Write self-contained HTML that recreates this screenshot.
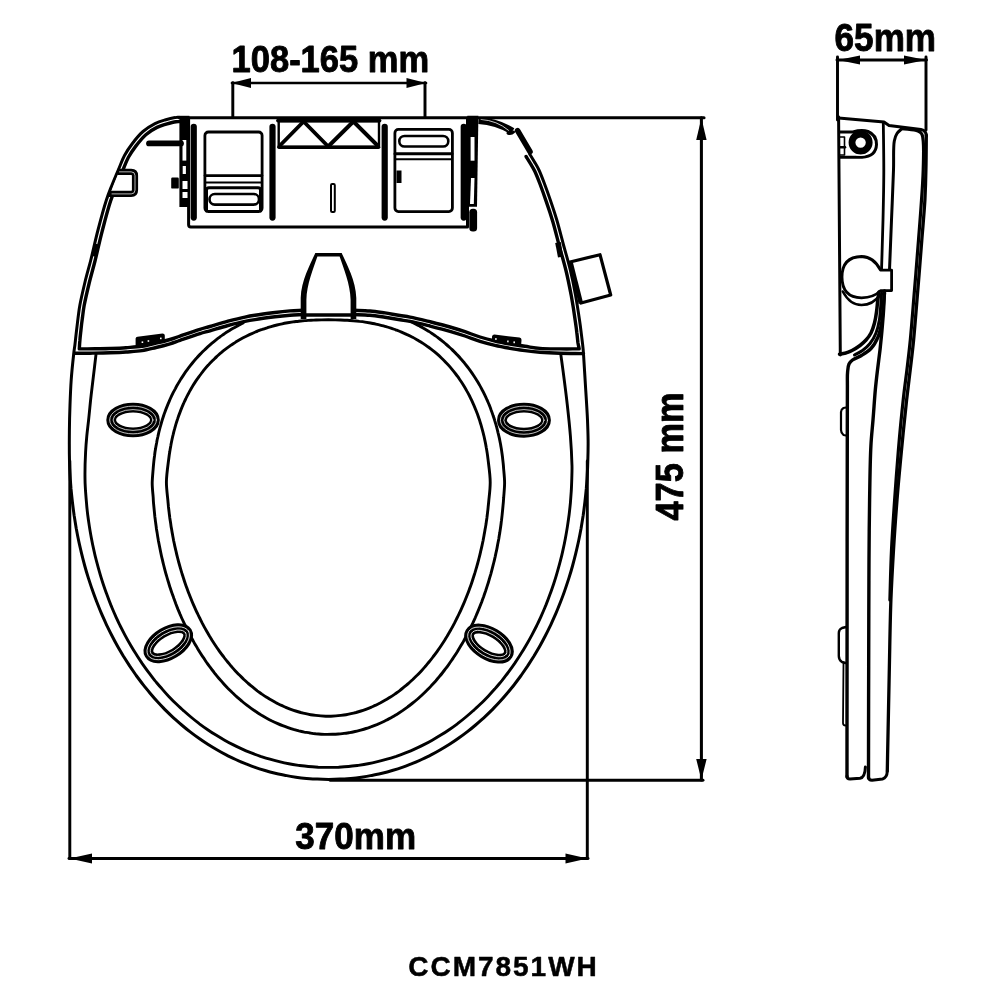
<!DOCTYPE html>
<html><head><meta charset="utf-8"><style>
html,body{margin:0;padding:0;background:#fff;width:1000px;height:1000px;overflow:hidden}
svg{position:absolute;left:0;top:0;will-change:transform}
.t{position:absolute;font-family:"Liberation Sans",sans-serif;font-weight:bold;color:#000;white-space:nowrap;line-height:1}
.rot{transform:translate(-50%,-50%) rotate(-90deg);transform-origin:center center}
</style></head><body>
<svg width="1000" height="1000" viewBox="0 0 1000 1000" stroke="#000" fill="none" stroke-linecap="round" stroke-linejoin="round">
<path d="M179.0,117.3 C177.7,117.4 176.6,117.3 175.0,117.6 C172.4,118.0 168.3,119.0 165.0,120.0 C161.6,121.0 158.4,121.9 155.0,123.6 C151.1,125.6 146.7,128.3 143.0,131.5 C139.1,134.9 135.5,139.4 132.4,143.5 C129.4,147.4 126.8,151.3 124.5,155.5 C122.2,159.8 120.7,164.3 118.7,169.0 C116.5,174.1 114.1,179.7 112.0,185.0 C110.0,190.1 108.3,194.1 106.4,200.0 C103.7,208.2 100.6,220.0 98.0,230.0 C95.4,240.0 93.1,250.8 90.8,260.0 C88.8,267.9 86.8,274.6 85.0,282.0 C83.2,289.6 81.1,298.5 79.9,305.0 C79.0,309.8 78.7,313.3 78.1,317.5 C77.6,321.7 77.1,325.6 76.6,330.0 C76.0,334.8 75.4,340.8 74.9,345.0 C74.5,348.1 74.2,349.5 73.8,353.0 C73.1,359.3 71.8,371.2 71.2,380.0 C70.6,388.5 70.3,396.7 70.0,405.0 C69.7,413.3 69.5,421.2 69.4,430.0 C69.3,439.8 69.3,452.9 69.5,461.2 C69.6,466.8 69.8,470.5 70.1,475.1 C70.3,479.6 70.7,484.2 71.0,488.7 C71.4,493.1 71.9,497.6 72.4,502.0 C72.9,506.4 73.5,510.8 74.1,515.2 C74.8,519.6 75.5,523.9 76.2,528.2 C77.0,532.5 77.8,536.7 78.7,541.0 C79.6,545.2 80.6,549.4 81.6,553.6 C82.6,557.7 83.7,561.9 84.8,566.0 C85.9,570.1 87.1,574.1 88.4,578.1 C89.7,582.1 91.0,586.1 92.4,590.1 C93.7,594.0 95.2,597.9 96.7,601.8 C98.2,605.6 99.7,609.4 101.3,613.2 C102.9,616.9 104.6,620.6 106.3,624.3 C108.1,628.0 109.8,631.6 111.7,635.2 C113.5,638.7 115.4,642.3 117.3,645.7 C119.3,649.2 121.3,652.6 123.3,656.0 C125.4,659.3 127.5,662.6 129.6,665.9 C131.8,669.1 134.0,672.3 136.2,675.5 C138.5,678.6 140.8,681.7 143.1,684.7 C145.5,687.7 147.9,690.6 150.3,693.5 C152.7,696.4 155.2,699.2 157.8,702.0 C160.3,704.8 162.9,707.4 165.5,710.1 C168.1,712.7 170.8,715.3 173.5,717.8 C176.2,720.2 178.9,722.7 181.7,725.0 C184.5,727.4 187.3,729.7 190.2,731.9 C193.0,734.1 195.9,736.2 198.9,738.3 C201.8,740.4 204.8,742.4 207.8,744.3 C210.8,746.2 213.8,748.0 216.9,749.8 C219.9,751.6 223.0,753.3 226.2,754.9 C229.3,756.5 232.5,758.0 235.7,759.5 C238.8,761.0 242.1,762.3 245.3,763.6 C248.6,764.9 251.8,766.2 255.1,767.3 C258.4,768.5 261.7,769.5 265.1,770.5 C268.4,771.5 271.8,772.4 275.2,773.2 C278.6,774.0 282.0,774.8 285.5,775.4 C288.9,776.1 292.4,776.7 295.9,777.2 C299.4,777.7 302.9,778.1 306.5,778.4 C310.1,778.7 313.7,779.0 317.3,779.1 C321.0,779.3 324.9,779.4 328.6,779.4 C332.4,779.4 336.3,779.3 340.0,779.1 C343.6,779.0 347.2,778.7 350.8,778.4 C354.4,778.1 357.9,777.7 361.4,777.2 C364.9,776.7 368.4,776.1 371.8,775.4 C375.3,774.8 378.7,774.0 382.1,773.2 C385.5,772.4 388.9,771.5 392.2,770.5 C395.6,769.5 398.9,768.5 402.2,767.3 C405.5,766.2 408.7,764.9 412.0,763.6 C415.2,762.3 418.5,761.0 421.6,759.5 C424.8,758.0 428.0,756.5 431.1,754.9 C434.3,753.3 437.4,751.6 440.4,749.8 C443.5,748.0 446.5,746.2 449.5,744.3 C452.5,742.4 455.5,740.4 458.4,738.3 C461.4,736.2 464.3,734.1 467.1,731.9 C470.0,729.7 472.8,727.4 475.6,725.0 C478.4,722.7 481.1,720.2 483.8,717.8 C486.5,715.3 489.2,712.7 491.8,710.1 C494.4,707.4 497.0,704.8 499.5,702.0 C502.1,699.2 504.6,696.4 507.0,693.5 C509.4,690.6 511.8,687.7 514.2,684.7 C516.5,681.7 518.8,678.6 521.1,675.5 C523.3,672.3 525.5,669.1 527.7,665.9 C529.8,662.6 531.9,659.3 534.0,656.0 C536.0,652.6 538.0,649.2 540.0,645.7 C541.9,642.3 543.8,638.7 545.6,635.2 C547.5,631.6 549.2,628.0 551.0,624.3 C552.7,620.6 554.4,616.9 556.0,613.2 C557.6,609.4 559.1,605.6 560.6,601.8 C562.1,597.9 563.6,594.0 564.9,590.1 C566.3,586.1 567.6,582.1 568.9,578.1 C570.2,574.1 571.4,570.1 572.5,566.0 C573.6,561.9 574.7,557.7 575.7,553.6 C576.7,549.4 577.7,545.2 578.6,541.0 C579.5,536.7 580.3,532.5 581.1,528.2 C581.8,523.9 582.5,519.6 583.2,515.2 C583.8,510.8 584.4,506.4 584.9,502.0 C585.4,497.6 585.9,493.1 586.3,488.7 C586.6,484.2 587.0,479.6 587.2,475.1 C587.5,470.5 587.7,466.3 587.8,461.2 C588.0,454.9 588.2,447.0 588.1,440.0 C588.0,433.2 587.8,427.4 587.5,420.0 C587.1,410.6 586.3,398.8 585.6,388.0 C584.9,376.8 584.0,361.1 583.5,354.0 C583.3,350.8 583.2,349.8 582.9,347.0 C582.5,342.9 581.7,336.7 581.1,332.0 C580.6,327.8 580.2,324.7 579.5,320.0 C578.5,313.2 577.0,303.3 575.5,295.0 C574.0,286.6 572.3,278.3 570.3,270.0 C568.3,261.6 565.8,253.3 563.5,245.0 C561.3,236.7 559.1,227.8 556.8,220.0 C554.7,212.9 552.5,206.4 550.3,200.0 C548.3,194.1 546.2,188.3 544.2,183.0 C542.4,178.2 540.6,173.4 538.7,169.5 C537.2,166.4 535.7,164.1 534.2,161.5 C532.7,159.0 531.3,156.7 529.8,154.3" stroke-width="3.0" fill="none" />
<path d="M179.5,121.6 C178.3,121.7 177.4,121.6 176.0,121.8 C173.6,122.1 169.4,123.2 166.2,124.1 C163.1,125.1 160.1,125.9 157.0,127.4 C153.3,129.2 149.3,131.7 145.8,134.7 C142.2,137.9 138.8,142.2 135.8,146.1 C133.0,149.8 130.5,153.5 128.3,157.5 C126.1,161.7 124.6,166.1 122.7,170.7 C120.5,175.7 118.1,181.4 116.0,186.6 C114.0,191.6 112.4,195.5 110.5,201.3 C107.8,209.4 104.8,221.1 102.2,231.1 C99.6,241.0 97.3,251.8 95.0,261.0 C93.0,268.9 91.0,275.6 89.2,283.0 C87.4,290.5 85.3,299.4 84.1,305.8 C83.3,310.5 82.9,314.0 82.4,318.1 C81.8,322.2 81.3,326.6 80.9,330.5 C80.5,334.0 80.1,337.2 79.9,340.4 C79.6,343.4 79.5,346.1 79.3,348.9 C84.5,348.9 89.8,348.8 95.0,348.8 C100.1,348.7 104.9,348.7 110.0,348.5 C115.2,348.3 120.7,348.1 126.0,347.7 C131.3,347.3 136.9,347.1 142.0,346.3 C146.8,345.6 151.3,344.3 156.0,343.2 C160.7,342.1 165.7,340.8 170.0,339.5 C173.6,338.4 176.1,337.4 180.0,336.1 C185.5,334.2 194.5,331.0 200.0,329.3 C203.9,328.1 206.2,327.6 210.0,326.5 C215.1,325.0 222.1,322.8 228.0,321.2 C233.7,319.7 240.1,318.1 245.0,317.1 C248.8,316.3 251.1,315.9 255.0,315.3 C260.5,314.4 268.8,313.3 275.0,312.5 C280.4,311.8 285.2,311.3 290.0,310.9 C294.5,310.6 298.7,310.5 303.0,310.3" stroke-width="3.4" fill="none" />
<path d="M353.5,310.3 C359.0,310.5 364.6,310.5 370.0,311.0 C375.1,311.4 380.0,312.2 385.0,312.9 C390.0,313.7 395.5,314.8 400.0,315.5 C403.7,316.1 406.1,316.3 410.0,317.1 C415.5,318.2 423.3,320.1 430.0,321.7 C436.7,323.4 443.8,325.2 450.0,327.0 C455.4,328.6 460.0,330.0 465.0,331.7 C470.0,333.4 475.0,335.4 480.0,337.0 C485.0,338.5 490.0,339.8 495.0,341.0 C500.0,342.2 505.0,343.1 510.0,344.0 C515.0,344.9 520.0,345.6 525.0,346.3 C530.0,347.0 534.6,348.0 540.0,348.4 C546.2,348.9 553.4,348.8 560.0,348.9 C566.5,349.0 572.8,348.9 579.2,348.9 C578.8,346.8 578.3,344.9 577.9,342.5 C577.5,339.5 577.3,336.0 576.8,332.5 C576.4,328.7 575.9,325.3 575.2,320.6 C574.3,313.9 572.8,304.0 571.3,295.8 C569.7,287.5 568.1,279.2 566.1,271.0 C564.1,262.7 561.6,254.4 559.3,246.1 C557.1,237.8 555.0,229.0 552.7,221.2 C550.6,214.2 548.4,207.7 546.2,201.4 C544.2,195.5 542.2,189.8 540.2,184.5 C538.4,179.8 536.6,175.1 534.8,171.3 C533.4,168.4 532.0,166.2 530.5,163.7 C529.1,161.2 527.6,158.9 526.1,156.5" stroke-width="3.4" fill="none" />
<path d="M74.5,353.3 C79.7,353.3 84.5,353.3 90.0,353.2 C96.2,353.1 103.7,353.0 110.0,352.8 C115.6,352.6 120.7,352.4 126.0,352.0 C131.3,351.6 136.9,351.4 142.0,350.6 C146.8,349.9 151.3,348.6 156.0,347.5 C160.7,346.4 165.7,345.1 170.0,343.8 C173.6,342.7 176.1,341.7 180.0,340.4 C185.5,338.5 194.5,335.3 200.0,333.6 C203.9,332.4 206.2,331.9 210.0,330.8 C215.1,329.3 222.1,327.1 228.0,325.5 C233.7,324.0 240.1,322.4 245.0,321.4 C248.8,320.6 251.1,320.2 255.0,319.6 C260.5,318.7 268.8,317.6 275.0,316.8 C280.4,316.1 285.2,315.6 290.0,315.2 C294.5,314.9 298.7,314.8 303.0,314.6" stroke-width="3.4" fill="none" />
<path d="M353.5,314.6 C359.0,314.8 364.6,314.8 370.0,315.3 C375.1,315.7 380.0,316.5 385.0,317.2 C390.0,318.0 395.5,319.1 400.0,319.8 C403.7,320.4 406.1,320.6 410.0,321.4 C415.5,322.5 423.3,324.4 430.0,326.0 C436.7,327.7 443.8,329.5 450.0,331.3 C455.4,332.9 460.0,334.3 465.0,336.0 C470.0,337.7 475.0,339.7 480.0,341.3 C485.0,342.8 490.0,344.1 495.0,345.3 C500.0,346.5 505.0,347.4 510.0,348.3 C515.0,349.2 520.0,349.9 525.0,350.6 C530.0,351.3 534.6,351.9 540.0,352.3 C546.2,352.8 553.1,353.1 560.0,353.3 C567.5,353.5 575.7,353.5 583.5,353.6" stroke-width="3.4" fill="none" />
<path d="M478.5,120.4 Q497,121.5 512.5,131.2" stroke-width="7" fill="none" stroke-linecap="butt"/>
<path d="M481,119.4 Q497,120.6 508.5,130.3" stroke="#fff" stroke-width="0.8" fill="none"/>
<path d="M508,133.2 Q511.5,134 513.5,132" stroke-width="3" fill="none"/>
<path d="M517.6,130.6 L530,151.6" stroke-width="5.6" fill="none" stroke-linecap="round"/>
<path d="M96.0,354.4 C94.7,365.6 93.0,379.6 92.0,388.0 C91.4,393.0 91.1,395.5 90.6,400.0 C90.0,405.8 89.3,413.7 88.6,420.0 C88.0,425.6 87.3,430.7 86.8,436.0 C86.3,441.3 85.9,446.0 85.6,452.0 C85.2,459.7 84.9,471.3 85.0,478.4 C85.0,483.3 85.3,486.6 85.5,490.7 C85.8,494.8 86.1,498.8 86.5,502.8 C86.8,506.8 87.2,510.8 87.7,514.8 C88.2,518.7 88.8,522.7 89.4,526.6 C90.0,530.5 90.7,534.4 91.4,538.3 C92.1,542.2 92.9,546.0 93.8,549.9 C94.6,553.7 95.5,557.5 96.5,561.2 C97.5,565.0 98.5,568.7 99.6,572.4 C100.6,576.1 101.8,579.8 103.0,583.5 C104.2,587.1 105.4,590.7 106.8,594.3 C108.1,597.9 109.4,601.4 110.8,604.9 C112.3,608.4 113.7,611.9 115.3,615.3 C116.8,618.7 118.4,622.1 120.0,625.5 C121.7,628.8 123.4,632.1 125.1,635.4 C126.8,638.6 128.6,641.8 130.5,645.0 C132.3,648.1 134.2,651.3 136.2,654.3 C138.1,657.4 140.1,660.4 142.1,663.4 C144.2,666.3 146.3,669.3 148.4,672.1 C150.5,675.0 152.7,677.8 154.9,680.6 C157.2,683.3 159.4,686.0 161.8,688.6 C164.1,691.3 166.4,693.9 168.8,696.4 C171.2,698.9 173.6,701.4 176.1,703.8 C178.6,706.2 181.1,708.6 183.7,710.8 C186.2,713.1 188.8,715.3 191.5,717.5 C194.1,719.7 196.7,721.7 199.4,723.8 C202.1,725.8 204.9,727.8 207.7,729.7 C210.4,731.6 213.2,733.4 216.0,735.1 C218.9,736.9 221.7,738.6 224.6,740.2 C227.5,741.9 230.4,743.4 233.4,744.9 C236.3,746.4 239.3,747.8 242.3,749.1 C245.3,750.5 248.3,751.7 251.3,752.9 C254.4,754.1 257.4,755.2 260.5,756.3 C263.6,757.3 266.7,758.3 269.9,759.2 C273.0,760.1 276.1,761.0 279.3,761.7 C282.5,762.5 285.6,763.2 288.9,763.8 C292.1,764.4 295.3,764.9 298.5,765.4 C301.8,765.8 305.0,766.2 308.3,766.5 C311.6,766.8 314.9,767.0 318.2,767.2 C321.6,767.3 325.0,767.4 328.4,767.4 C331.8,767.4 335.2,767.3 338.6,767.2 C341.9,767.0 345.2,766.8 348.5,766.5 C351.8,766.2 355.0,765.8 358.3,765.4 C361.5,764.9 364.7,764.4 367.9,763.8 C371.2,763.2 374.3,762.5 377.5,761.7 C380.7,761.0 383.8,760.1 386.9,759.2 C390.1,758.3 393.2,757.3 396.3,756.3 C399.4,755.2 402.4,754.1 405.5,752.9 C408.5,751.7 411.5,750.5 414.5,749.1 C417.5,747.8 420.5,746.4 423.4,744.9 C426.4,743.4 429.3,741.9 432.2,740.2 C435.1,738.6 437.9,736.9 440.8,735.1 C443.6,733.4 446.4,731.6 449.1,729.7 C451.9,727.8 454.7,725.8 457.4,723.8 C460.1,721.7 462.7,719.7 465.3,717.5 C468.0,715.3 470.6,713.1 473.1,710.8 C475.7,708.6 478.2,706.2 480.7,703.8 C483.2,701.4 485.6,698.9 488.0,696.4 C490.4,693.9 492.7,691.3 495.1,688.6 C497.4,686.0 499.6,683.3 501.9,680.6 C504.1,677.8 506.3,675.0 508.4,672.1 C510.5,669.3 512.6,666.3 514.7,663.4 C516.7,660.4 518.7,657.4 520.6,654.3 C522.6,651.3 524.5,648.1 526.3,645.0 C528.2,641.8 530.0,638.6 531.7,635.4 C533.4,632.1 535.1,628.8 536.8,625.5 C538.4,622.1 540.0,618.7 541.5,615.3 C543.1,611.9 544.5,608.4 546.0,604.9 C547.4,601.4 548.7,597.9 550.0,594.3 C551.4,590.7 552.6,587.1 553.8,583.5 C555.0,579.8 556.2,576.1 557.2,572.4 C558.3,568.7 559.3,565.0 560.3,561.2 C561.3,557.5 562.2,553.7 563.0,549.9 C563.9,546.0 564.7,542.2 565.4,538.3 C566.1,534.4 566.8,530.5 567.4,526.6 C568.0,522.7 568.6,518.7 569.1,514.8 C569.6,510.8 570.0,506.8 570.4,502.8 C570.7,498.8 571.0,494.8 571.3,490.7 C571.5,486.6 571.7,482.6 571.8,478.4 C571.9,474.3 572.1,470.9 572.0,465.8 C571.8,458.0 571.2,446.1 570.4,436.0 C569.6,425.5 568.4,414.7 567.2,404.0 C566.0,393.3 564.4,381.1 563.2,372.0 C562.3,365.3 561.6,360.3 560.8,354.4" stroke-width="2.9" fill="none" />
<path d="M243.0,323.0 C241.5,323.8 239.8,324.6 238.3,325.4 C236.7,326.3 235.1,327.1 233.6,328.0 C232.1,328.9 230.5,329.8 229.1,330.8 C227.6,331.7 226.1,332.6 224.6,333.6 C223.2,334.6 221.7,335.6 220.3,336.6 C218.9,337.7 217.5,338.7 216.1,339.8 C214.7,340.9 213.3,342.0 212.0,343.1 C210.7,344.2 209.3,345.4 208.0,346.6 C206.7,347.8 205.5,348.9 204.2,350.2 C202.9,351.4 201.7,352.6 200.5,353.9 C199.2,355.2 198.0,356.5 196.9,357.8 C195.7,359.1 194.5,360.4 193.4,361.8 C192.3,363.1 191.2,364.5 190.1,365.9 C189.0,367.3 187.9,368.7 186.9,370.2 C185.8,371.6 184.8,373.1 183.8,374.6 C182.8,376.1 181.8,377.6 180.8,379.1 C179.9,380.7 178.9,382.2 178.0,383.8 C177.1,385.3 176.2,386.9 175.4,388.6 C174.5,390.2 173.6,391.8 172.8,393.4 C172.0,395.1 171.2,396.8 170.4,398.5 C169.7,400.2 168.9,401.9 168.2,403.6 C167.5,405.3 166.8,407.1 166.1,408.9 C165.4,410.6 164.8,412.4 164.1,414.2 C163.5,416.1 162.9,417.9 162.3,419.7 C161.7,421.6 161.2,423.5 160.7,425.4 C160.1,427.2 159.6,429.2 159.1,431.1 C158.7,433.0 158.2,435.0 157.8,437.0 C157.3,438.9 156.9,440.9 156.6,443.0 C156.2,445.0 155.8,447.0 155.5,449.1 C155.1,451.2 154.8,453.3 154.6,455.4 C154.3,457.5 154.0,459.7 153.8,461.8 C153.6,464.0 153.4,465.9 153.2,468.5 C152.9,472.4 152.3,478.2 152.2,483.0 C152.2,487.8 152.9,493.7 153.2,497.5 C153.3,500.1 153.4,501.7 153.6,503.8 C153.8,505.9 154.0,508.0 154.2,510.0 C154.4,512.1 154.6,514.2 154.8,516.2 C155.1,518.3 155.3,520.4 155.6,522.4 C155.9,524.5 156.2,526.5 156.4,528.5 C156.7,530.6 157.1,532.6 157.4,534.6 C157.7,536.7 158.1,538.7 158.4,540.7 C158.8,542.7 159.2,544.7 159.6,546.7 C160.0,548.7 160.4,550.7 160.8,552.7 C161.2,554.7 161.6,556.6 162.1,558.6 C162.6,560.5 163.0,562.5 163.5,564.5 C164.0,566.4 164.5,568.3 165.0,570.3 C165.5,572.2 166.0,574.1 166.6,576.0 C167.1,577.9 167.7,579.8 168.3,581.7 C168.8,583.6 169.4,585.4 170.0,587.3 C170.6,589.2 171.2,591.0 171.9,592.9 C172.5,594.7 173.2,596.5 173.8,598.3 C174.5,600.2 175.2,601.9 175.8,603.7 C176.5,605.5 177.2,607.3 177.9,609.1 C178.7,610.8 179.4,612.6 180.1,614.3 C180.9,616.1 181.6,617.8 182.4,619.5 C183.2,621.2 184.0,622.9 184.8,624.6 C185.6,626.3 186.4,627.9 187.2,629.6 C188.0,631.2 188.8,632.9 189.7,634.5 C190.5,636.1 191.4,637.7 192.3,639.3 C193.2,640.9 194.0,642.5 194.9,644.0 C195.8,645.6 196.8,647.1 197.7,648.7 C198.6,650.2 199.5,651.7 200.5,653.2 C201.4,654.7 202.4,656.2 203.4,657.6 C204.3,659.1 205.3,660.5 206.3,662.0 C207.3,663.4 208.3,664.8 209.3,666.2 C210.4,667.6 211.4,668.9 212.4,670.3 C213.5,671.6 214.5,673.0 215.6,674.3 C216.6,675.6 217.6,676.8 218.8,678.2 C220.1,679.7 221.7,681.5 223.2,683.2 C224.6,684.8 226.1,686.4 227.6,688.0 C229.1,689.5 230.7,691.0 232.2,692.5 C233.8,694.0 235.3,695.5 236.9,696.9 C238.5,698.3 240.0,699.7 241.7,701.0 C243.3,702.4 244.9,703.7 246.5,704.9 C248.1,706.2 249.8,707.4 251.5,708.6 C253.1,709.8 254.8,710.9 256.5,712.0 C258.2,713.2 259.9,714.2 261.6,715.3 C263.3,716.3 265.0,717.3 266.7,718.2 C268.5,719.2 270.2,720.1 272.0,721.0 C273.7,721.8 275.5,722.6 277.2,723.4 C279.0,724.2 280.8,725.0 282.6,725.7 C284.4,726.4 286.2,727.0 288.0,727.6 C289.8,728.3 291.6,728.8 293.4,729.4 C295.2,729.9 297.1,730.4 298.9,730.9 C300.7,731.3 302.6,731.7 304.4,732.1 C306.3,732.4 308.1,732.8 310.0,733.0 C311.9,733.3 313.7,733.6 315.6,733.8 C317.5,733.9 319.4,734.1 321.2,734.2 C323.1,734.3 325.0,734.4 326.9,734.4 C328.9,734.4 330.8,734.4 332.7,734.3 C334.6,734.3 336.5,734.2 338.4,734.0 C340.3,733.8 342.2,733.7 344.0,733.4 C345.9,733.2 347.7,732.9 349.6,732.6 C351.5,732.3 353.3,731.9 355.1,731.5 C357.0,731.1 358.8,730.6 360.7,730.1 C362.5,729.6 364.3,729.1 366.1,728.5 C367.9,728.0 369.7,727.3 371.5,726.7 C373.3,726.0 375.1,725.3 376.9,724.6 C378.7,723.8 380.5,723.0 382.2,722.2 C384.0,721.4 385.7,720.5 387.5,719.6 C389.2,718.7 391.0,717.8 392.7,716.8 C394.4,715.8 396.1,714.7 397.8,713.7 C399.5,712.6 401.2,711.5 402.9,710.4 C404.5,709.2 406.2,708.0 407.8,706.8 C409.5,705.6 411.1,704.3 412.7,703.0 C414.4,701.7 416.0,700.4 417.6,699.0 C419.1,697.6 420.7,696.2 422.3,694.7 C423.8,693.3 425.4,691.8 426.9,690.3 C428.4,688.7 430.0,687.2 431.4,685.6 C432.9,684.0 434.5,682.2 435.9,680.7 C437.0,679.4 438.0,678.2 439.1,676.9 C440.2,675.6 441.3,674.3 442.3,673.0 C443.4,671.6 444.4,670.3 445.4,668.9 C446.5,667.6 447.5,666.2 448.5,664.8 C449.5,663.4 450.5,662.0 451.5,660.5 C452.5,659.1 453.4,657.6 454.4,656.2 C455.4,654.7 456.3,653.2 457.3,651.7 C458.2,650.2 459.1,648.7 460.1,647.1 C461.0,645.6 461.9,644.0 462.8,642.5 C463.7,640.9 464.5,639.3 465.4,637.7 C466.3,636.1 467.1,634.5 468.0,632.9 C468.8,631.2 469.6,629.6 470.4,627.9 C471.3,626.3 472.1,624.6 472.9,622.9 C473.6,621.2 474.4,619.5 475.2,617.8 C475.9,616.1 476.7,614.3 477.4,612.6 C478.2,610.8 478.9,609.1 479.6,607.3 C480.3,605.5 481.0,603.7 481.7,602.0 C482.3,600.1 483.0,598.3 483.7,596.5 C484.3,594.7 484.9,592.9 485.6,591.0 C486.2,589.2 486.8,587.3 487.4,585.4 C488.0,583.6 488.6,581.7 489.1,579.8 C489.7,577.9 490.2,576.0 490.8,574.1 C491.3,572.2 491.8,570.3 492.3,568.3 C492.8,566.4 493.3,564.4 493.8,562.5 C494.3,560.5 494.7,558.6 495.2,556.6 C495.6,554.7 496.0,552.7 496.5,550.7 C496.9,548.7 497.3,546.7 497.6,544.7 C498.0,542.7 498.4,540.7 498.8,538.7 C499.1,536.7 499.4,534.6 499.8,532.6 C500.1,530.6 500.4,528.6 500.7,526.5 C501.0,524.5 501.2,522.4 501.5,520.4 C501.7,518.3 502.0,516.2 502.2,514.2 C502.4,512.1 502.6,510.0 502.8,508.0 C503.0,505.9 503.2,503.6 503.4,501.7 C503.5,500.2 503.5,499.3 503.7,497.5 C503.9,494.1 504.6,487.8 504.6,483.0 C504.6,478.2 503.9,472.1 503.6,468.5 C503.5,466.4 503.4,465.3 503.2,463.5 C503.0,461.5 502.7,459.1 502.5,457.0 C502.2,454.9 501.9,452.7 501.6,450.6 C501.3,448.6 500.9,446.5 500.6,444.5 C500.2,442.5 499.8,440.4 499.4,438.4 C499.0,436.5 498.5,434.5 498.0,432.6 C497.6,430.6 497.1,428.7 496.6,426.8 C496.0,424.9 495.5,423.0 494.9,421.1 C494.4,419.3 493.8,417.4 493.1,415.6 C492.5,413.8 491.9,412.0 491.2,410.2 C490.6,408.4 489.9,406.7 489.2,404.9 C488.4,403.2 487.7,401.4 486.9,399.7 C486.2,398.0 485.4,396.4 484.6,394.7 C483.8,393.0 483.0,391.4 482.1,389.8 C481.2,388.1 480.4,386.5 479.5,384.9 C478.6,383.4 477.6,381.8 476.7,380.3 C475.8,378.7 474.8,377.2 473.8,375.7 C472.8,374.2 471.8,372.7 470.8,371.3 C469.7,369.8 468.7,368.4 467.6,367.0 C466.5,365.6 465.4,364.2 464.3,362.8 C463.1,361.4 462.0,360.1 460.8,358.8 C459.7,357.4 458.5,356.1 457.3,354.9 C456.1,353.6 454.8,352.3 453.6,351.1 C452.3,349.9 451.1,348.6 449.8,347.5 C448.5,346.3 447.2,345.1 445.8,344.0 C444.5,342.8 443.1,341.7 441.8,340.6 C440.4,339.5 439.0,338.5 437.6,337.4 C436.2,336.4 434.7,335.4 433.3,334.4 C431.8,333.4 430.4,332.4 428.9,331.4 C427.4,330.5 425.9,329.6 424.4,328.7 C422.8,327.8 421.3,326.9 419.7,326.1 C418.2,325.2 416.6,324.4 415.0,323.6 C413.4,322.8 411.7,322.1 410.1,321.3" stroke-width="2.9" fill="none" />
<path d="M488.0,459.2 C487.7,456.5 487.5,455.1 487.2,453.1 C486.9,451.1 486.6,449.1 486.2,447.2 C485.9,445.2 485.5,443.3 485.1,441.4 C484.7,439.5 484.3,437.6 483.9,435.8 C483.4,433.9 483.0,432.1 482.5,430.3 C482.0,428.5 481.5,426.7 481.0,424.9 C480.5,423.2 479.9,421.5 479.4,419.7 C478.8,418.0 478.2,416.3 477.6,414.6 C477.0,413.0 476.4,411.3 475.7,409.7 C475.1,408.0 474.4,406.4 473.7,404.8 C473.0,403.3 472.3,401.7 471.6,400.1 C470.8,398.6 470.1,397.0 469.3,395.5 C468.5,394.0 467.7,392.5 466.9,391.1 C466.1,389.6 465.3,388.2 464.4,386.7 C463.4,385.1 462.2,383.2 461.1,381.5 C459.9,379.8 458.8,378.1 457.6,376.4 C456.4,374.8 455.1,373.2 453.9,371.6 C452.6,370.0 451.3,368.4 450.0,366.9 C448.7,365.4 447.3,363.9 445.9,362.5 C444.6,361.0 443.2,359.6 441.7,358.2 C440.3,356.9 438.8,355.5 437.3,354.2 C435.8,352.9 434.3,351.6 432.7,350.4 C431.1,349.2 429.6,348.0 427.9,346.8 C426.3,345.6 424.7,344.5 423.0,343.4 C421.3,342.3 419.6,341.3 417.9,340.2 C416.1,339.2 414.4,338.2 412.6,337.3 C410.8,336.4 409.0,335.4 407.1,334.6 C405.3,333.7 403.4,332.9 401.5,332.1 C399.6,331.3 397.5,330.5 395.7,329.8 C394.0,329.2 392.5,328.7 390.9,328.1 C389.3,327.6 387.7,327.1 386.0,326.6 C384.3,326.2 382.7,325.7 381.0,325.3 C379.3,324.9 377.5,324.5 375.8,324.1 C374.1,323.7 372.3,323.4 370.5,323.0 C368.7,322.7 366.9,322.4 365.0,322.1 C363.1,321.8 361.3,321.6 359.4,321.4 C357.4,321.1 355.4,320.9 353.4,320.8 C351.4,320.6 349.4,320.4 347.3,320.3 C345.1,320.2 342.7,320.1 340.6,320.0 C338.7,319.9 337.1,319.9 335.2,319.9 C333.1,319.8 330.6,319.8 328.4,319.8 C326.1,319.8 323.6,319.8 321.5,319.9 C319.6,319.9 317.8,319.9 316.1,320.0 C314.3,320.1 312.8,320.1 311.0,320.2 C309.1,320.3 306.8,320.5 304.8,320.6 C302.7,320.8 300.8,321.0 298.8,321.2 C296.9,321.4 295.0,321.7 293.1,321.9 C291.2,322.2 289.4,322.5 287.6,322.8 C285.8,323.1 284.0,323.4 282.2,323.8 C280.5,324.2 278.7,324.6 277.0,325.0 C275.3,325.4 273.6,325.8 271.9,326.3 C270.3,326.8 268.6,327.2 267.0,327.8 C265.4,328.3 263.8,328.8 262.2,329.4 C260.6,329.9 259.1,330.5 257.5,331.1 C255.7,331.9 253.7,332.7 251.8,333.6 C249.9,334.4 248.1,335.3 246.3,336.2 C244.5,337.1 242.7,338.0 240.9,339.0 C239.2,340.0 237.4,341.1 235.7,342.1 C234.0,343.2 232.4,344.3 230.7,345.4 C229.1,346.6 227.5,347.7 225.9,348.9 C224.3,350.1 222.7,351.4 221.2,352.7 C219.7,353.9 218.2,355.3 216.7,356.6 C215.3,358.0 213.8,359.4 212.4,360.8 C211.0,362.2 209.6,363.6 208.3,365.1 C206.9,366.6 205.6,368.1 204.3,369.7 C203.1,371.3 201.8,372.8 200.6,374.5 C199.4,376.1 198.2,377.8 197.0,379.4 C195.8,381.1 194.7,382.9 193.6,384.6 C192.5,386.4 191.4,388.3 190.4,390.0 C189.5,391.5 188.8,392.9 188.0,394.4 C187.2,395.9 186.4,397.4 185.7,399.0 C184.9,400.5 184.2,402.1 183.5,403.6 C182.8,405.2 182.1,406.8 181.5,408.4 C180.8,410.1 180.2,411.7 179.6,413.4 C178.9,415.1 178.3,416.7 177.8,418.4 C177.2,420.2 176.6,421.9 176.1,423.6 C175.6,425.4 175.0,427.2 174.6,428.9 C174.1,430.7 173.6,432.6 173.2,434.4 C172.7,436.2 172.3,438.1 171.9,440.0 C171.5,441.9 171.1,443.8 170.8,445.7 C170.4,447.7 170.1,449.5 169.8,451.6 C169.4,454.0 169.1,456.0 168.7,459.2 C168.0,464.8 166.5,474.8 166.4,482.0 C166.4,488.5 167.5,496.2 167.9,500.6 C168.1,503.1 168.3,504.5 168.4,506.4 C168.6,508.3 168.9,510.3 169.1,512.2 C169.3,514.1 169.6,516.0 169.8,517.9 C170.1,519.8 170.4,521.7 170.7,523.6 C170.9,525.5 171.2,527.4 171.6,529.3 C171.9,531.2 172.2,533.0 172.6,534.9 C172.9,536.8 173.3,538.7 173.6,540.5 C174.0,542.4 174.4,544.2 174.8,546.1 C175.2,547.9 175.6,549.8 176.1,551.6 C176.5,553.5 176.9,555.3 177.4,557.1 C177.9,558.9 178.3,560.7 178.8,562.5 C179.3,564.3 179.8,566.1 180.3,567.9 C180.8,569.7 181.4,571.5 181.9,573.2 C182.5,575.0 183.0,576.8 183.6,578.5 C184.1,580.3 184.7,582.0 185.3,583.7 C185.9,585.5 186.5,587.2 187.2,588.9 C187.8,590.6 188.4,592.3 189.1,594.0 C189.7,595.6 190.4,597.3 191.1,599.0 C191.7,600.6 192.4,602.3 193.1,603.9 C193.8,605.5 194.5,607.1 195.3,608.8 C196.0,610.4 196.7,612.0 197.5,613.5 C198.2,615.1 199.0,616.7 199.8,618.2 C200.5,619.8 201.3,621.3 202.1,622.9 C202.9,624.4 203.7,625.9 204.5,627.4 C205.3,628.9 206.2,630.4 207.0,631.8 C207.9,633.3 208.7,634.7 209.6,636.2 C210.5,637.6 211.3,638.9 212.2,640.5 C213.3,642.2 214.6,644.2 215.8,646.0 C217.0,647.8 218.3,649.6 219.5,651.3 C220.8,653.1 222.1,654.8 223.4,656.5 C224.6,658.2 226.0,659.9 227.3,661.5 C228.6,663.1 230.0,664.7 231.3,666.3 C232.7,667.9 234.0,669.4 235.4,670.9 C236.8,672.4 238.2,673.9 239.7,675.3 C241.1,676.7 242.5,678.1 243.9,679.5 C245.4,680.8 246.9,682.2 248.3,683.5 C249.8,684.7 251.3,686.0 252.8,687.2 C254.3,688.4 255.8,689.6 257.3,690.8 C258.8,691.9 260.4,693.0 261.9,694.1 C263.5,695.2 265.0,696.2 266.6,697.2 C268.2,698.2 269.7,699.2 271.3,700.1 C272.9,701.0 274.5,701.9 276.1,702.8 C277.7,703.6 279.3,704.4 280.9,705.2 C282.6,705.9 284.2,706.7 285.8,707.4 C287.5,708.1 289.1,708.7 290.8,709.3 C292.4,709.9 294.0,710.5 295.7,711.0 C297.4,711.5 299.0,712.0 300.7,712.5 C302.4,712.9 304.0,713.3 305.7,713.7 C307.4,714.1 309.0,714.4 310.7,714.7 C312.4,715.0 314.1,715.2 315.8,715.4 C317.4,715.6 319.1,715.8 320.8,715.9 C322.5,716.0 324.2,716.1 325.8,716.2 C327.5,716.2 329.2,716.2 330.9,716.2 C332.5,716.1 334.2,716.0 335.9,715.9 C337.6,715.8 339.3,715.6 340.9,715.4 C342.6,715.2 344.3,715.0 346.0,714.7 C347.7,714.4 349.3,714.1 351.0,713.7 C352.7,713.3 354.3,712.9 356.0,712.5 C357.7,712.0 359.3,711.5 361.0,711.0 C362.7,710.5 364.3,709.9 365.9,709.3 C367.6,708.7 369.2,708.1 370.9,707.4 C372.5,706.7 374.1,705.9 375.8,705.2 C377.4,704.4 379.0,703.6 380.6,702.8 C382.2,701.9 383.8,701.0 385.4,700.1 C387.0,699.2 388.5,698.2 390.1,697.2 C391.7,696.2 393.2,695.2 394.8,694.1 C396.3,693.0 397.9,691.9 399.4,690.8 C400.9,689.6 402.4,688.4 403.9,687.2 C405.4,686.0 406.9,684.7 408.4,683.5 C409.8,682.2 411.3,680.8 412.8,679.5 C414.2,678.1 415.6,676.7 417.1,675.3 C418.5,673.9 419.9,672.4 421.3,670.9 C422.7,669.4 424.0,667.9 425.4,666.3 C426.7,664.7 428.1,663.1 429.4,661.5 C430.7,659.9 432.1,658.2 433.3,656.5 C434.6,654.8 435.9,653.1 437.2,651.3 C438.4,649.6 439.7,647.8 440.9,646.0 C442.1,644.2 443.4,642.2 444.5,640.5 C445.4,638.9 446.2,637.6 447.1,636.2 C448.0,634.7 448.8,633.3 449.7,631.8 C450.5,630.4 451.4,628.9 452.2,627.4 C453.0,625.9 453.8,624.4 454.6,622.9 C455.4,621.3 456.2,619.8 456.9,618.2 C457.7,616.7 458.5,615.1 459.2,613.5 C460.0,612.0 460.7,610.4 461.4,608.8 C462.2,607.1 462.9,605.5 463.6,603.9 C464.3,602.3 465.0,600.6 465.6,599.0 C466.3,597.3 467.0,595.6 467.6,594.0 C468.3,592.3 468.9,590.6 469.5,588.9 C470.2,587.2 470.8,585.5 471.4,583.7 C472.0,582.0 472.6,580.3 473.1,578.5 C473.7,576.8 474.2,575.0 474.8,573.2 C475.3,571.5 475.9,569.7 476.4,567.9 C476.9,566.1 477.4,564.3 477.9,562.5 C478.4,560.7 478.8,558.9 479.3,557.1 C479.8,555.3 480.2,553.5 480.6,551.6 C481.1,549.8 481.5,547.9 481.9,546.1 C482.3,544.2 482.7,542.4 483.1,540.5 C483.4,538.7 483.8,536.8 484.1,534.9 C484.5,533.0 484.8,531.2 485.1,529.3 C485.5,527.4 485.8,525.5 486.1,523.6 C486.3,521.7 486.6,519.8 486.9,517.9 C487.1,516.0 487.4,514.1 487.6,512.2 C487.8,510.3 488.1,508.3 488.2,506.4 C488.4,504.5 488.6,503.1 488.8,500.6 C489.2,496.2 490.3,488.5 490.2,482.0 C490.2,474.8 488.6,464.4 488.0,459.2Z" stroke-width="2.9" fill="none" />
<line x1="302" y1="315" x2="354" y2="315" stroke-width="3.4"/>
<path d="M315.3,253 L341.7,253 C346.5,264 355.7,280 356.3,298 L356.3,319 L350.6,319 L350.6,300 C350.3,284 343.5,268 339.6,256.4 L317.4,256.4 C313.5,268 306.7,284 306.4,300 L306.4,319 L300.7,319 L300.7,298 C301.3,280 310.5,264 315.3,253Z" stroke-width="0" fill="#000" stroke="none"/>
<g transform="translate(133.05,420) rotate(0)"><ellipse rx="21.85" ry="12.35" stroke-width="9.8" fill="#fff"/><ellipse rx="23.35" ry="13.85" stroke="#fff" stroke-width="0.75"/><ellipse rx="19.95" ry="10.40" stroke="#fff" stroke-width="0.75"/></g>
<g transform="translate(523.95,420.2) rotate(0)"><ellipse rx="22.05" ry="12.55" stroke-width="9.8" fill="#fff"/><ellipse rx="23.55" ry="14.05" stroke="#fff" stroke-width="0.75"/><ellipse rx="20.15" ry="10.60" stroke="#fff" stroke-width="0.75"/></g>
<g transform="translate(168.3,643.2) rotate(-31)"><ellipse rx="22.10" ry="11.55" stroke-width="9.8" fill="#fff"/><ellipse rx="23.60" ry="13.05" stroke="#fff" stroke-width="0.75"/><ellipse rx="20.20" ry="9.60" stroke="#fff" stroke-width="0.75"/></g>
<g transform="translate(489,643.6) rotate(31)"><ellipse rx="22.10" ry="11.55" stroke-width="9.8" fill="#fff"/><ellipse rx="23.60" ry="13.05" stroke="#fff" stroke-width="0.75"/><ellipse rx="20.20" ry="9.60" stroke="#fff" stroke-width="0.75"/></g>
<path d="M135.6,346.5 L135.6,338.6 Q135.8,337 137.5,336.8 L162.5,333.6 Q164.8,333.6 164.8,335.5 L164.8,342 Z" fill="#000" stroke="none"/>
<rect x="141.6" y="341.4" width="1.6" height="1.6" fill="#fff" stroke="none"/>
<rect x="147.6" y="340.2" width="1.6" height="1.6" fill="#fff" stroke="none"/>
<rect x="160.0" y="337.59999999999997" width="1.6" height="1.6" fill="#fff" stroke="none"/>
<path d="M492,341.5 L492,336.5 Q492.5,334.5 494.5,334.6 L519.5,337.6 Q521.6,338 521.5,340 L521,346.5 Z" fill="#000" stroke="none"/>
<rect x="495.15" y="338.1" width="1.5" height="1.8" fill="#fff" stroke="none"/>
<rect x="507.15" y="340.5" width="1.5" height="1.8" fill="#fff" stroke="none"/>
<rect x="513.45" y="341.40000000000003" width="1.5" height="1.8" fill="#fff" stroke="none"/>
<line x1="179" y1="117.7" x2="704" y2="117.7" stroke-width="3.1"/>
<path d="M188.6,118 L188.6,224.8 Q188.6,227 190.8,227 L467.5,227 L467.5,118" stroke-width="3" fill="none"/>
<line x1="193.75" y1="126.8" x2="193.75" y2="217.6" stroke-width="6.2" stroke-linecap="round"/>
<line x1="272.5" y1="126.8" x2="272.5" y2="217.6" stroke-width="6.2" stroke-linecap="round"/>
<line x1="384.7" y1="126.8" x2="384.7" y2="217.6" stroke-width="6.2" stroke-linecap="round"/>
<line x1="463.75" y1="126.8" x2="463.75" y2="217.6" stroke-width="6.2" stroke-linecap="round"/>
<rect x="204.9" y="132" width="57.2" height="79.5" rx="3.5" stroke-width="2.8"/>
<line x1="205" y1="175.6" x2="262" y2="175.6" stroke-width="2.6"/>
<line x1="205" y1="182.4" x2="262" y2="182.4" stroke-width="2"/>
<path d="M206.5,211 L206.5,190 Q206.5,187.8 209,187.8 L258,187.8 Q260.5,187.8 260.5,190 L260.5,211" stroke-width="3" fill="none"/>
<rect x="209.5" y="194" width="49.5" height="10.6" rx="5.3" stroke-width="2.6"/>
<rect x="394.9" y="129.4" width="57.5" height="82.2" rx="3.5" stroke-width="2.8"/>
<rect x="399.3" y="136" width="49" height="10.5" rx="5.25" stroke-width="2.6"/>
<line x1="395" y1="153.8" x2="452" y2="153.8" stroke-width="3"/>
<line x1="395" y1="159.2" x2="452" y2="159.2" stroke-width="2"/>
<rect x="396.5" y="170.5" width="5" height="12.5" fill="#000" stroke="none"/>
<path d="M278.7,121 L278.7,147 L379,147 L379,121 Z" stroke-width="2.4" fill="none"/>
<line x1="278" y1="120.6" x2="379.5" y2="120.6" stroke-width="3.8"/>
<path d="M279.5,146 L303.6,121.5 L328.2,146.5 L353.4,121.5 L378,146" stroke-width="3.9" fill="none" stroke-linejoin="round"/>
<line x1="279" y1="147.2" x2="378.5" y2="147.2" stroke-width="3.6"/>
<rect x="331" y="184" width="3.8" height="28" rx="1.2" stroke-width="2"/>
<rect x="179.4" y="115.8" width="10" height="91.2" fill="#000" stroke="none"/>
<rect x="182.5" y="140" width="3.8" height="20.6" fill="#fff" stroke="none"/>
<rect x="182.7" y="166" width="3.2" height="8" fill="#fff" stroke="none"/>
<rect x="182.5" y="181" width="5" height="8" fill="#fff" stroke="none"/>
<rect x="182.5" y="192" width="5" height="6" fill="#fff" stroke="none"/>
<rect x="171.2" y="177.6" width="7.6" height="11" rx="1.2" fill="#000" stroke="none"/>
<line x1="149" y1="143.4" x2="181" y2="143.4" stroke-width="5.8" stroke-linecap="round"/>
<path d="M118.3,174.3 L132,174.3 L132,190.9 L111.6,190.9 Z" fill="#fff" stroke="none"/>
<path d="M117.4,171.85 L131.2,171.85 Q135,171.85 135,175.6 L135,190.1 Q135,193.9 131.2,193.9 L108.9,193.9" stroke-width="6.2" fill="none" stroke-linejoin="round" stroke-linecap="butt"/>
<path d="M119.5,171.85 L131.2,171.85 Q135,171.85 135,175.6 L135,190.1 Q135,193.9 131.2,193.9 L112,193.9" stroke="#fff" stroke-width="0.7" fill="none"/>
<path d="M467.4,115.8 L478.4,115.8 L477,206.8 L467.4,206.8 Z" fill="#000" stroke="none"/>
<path d="M470.6,137 L474.5,137 L474.5,160.7 L470.6,160.7 Z" fill="#fff" stroke="none"/>
<path d="M471,178 L474.5,178 L473.8,204 L470,204 Z" fill="#fff" stroke="none"/>
<rect x="469.3" y="208.8" width="7.8" height="22.7" rx="3.5" fill="#000" stroke="none"/>
<path d="M570,262 L600,254.7 L610.7,295 L581,303" stroke-width="3.2" fill="none" stroke-linejoin="round"/>
<path d="M568.5,261.5 L572.5,260.8 L583,302.5 L578.6,304 Z" fill="#000" stroke="none"/>
<path d="M555.2,243 L560.8,242 L563,256.5 L558,257.5 Z" fill="#000" stroke="none"/>
<path d="M95,243.5 L98.5,244.5 L96,257 L92.5,256 Z" fill="#000" stroke="none"/>
<line x1="232.8" y1="82.8" x2="232.8" y2="117" stroke-width="2.95"/>
<line x1="425" y1="82.8" x2="425" y2="117" stroke-width="2.95"/>
<line x1="232" y1="83" x2="426" y2="83" stroke-width="2.7"/>
<path d="M231.5,83.0 L251.0,88.0 L251.0,78.0 Z" fill="#000" stroke="none"/>
<path d="M426.0,83.0 L406.5,78.0 L406.5,88.0 Z" fill="#000" stroke="none"/>
<line x1="701.4" y1="117.8" x2="701.4" y2="780" stroke-width="3.05"/>
<path d="M701.4,118.0 L696.2,140.0 L706.6,140.0 Z" fill="#000" stroke="none"/>
<path d="M701.4,780.0 L706.6,759.0 L696.2,759.0 Z" fill="#000" stroke="none"/>
<line x1="330" y1="780.3" x2="703" y2="780.3" stroke-width="2.95"/>
<line x1="69.8" y1="461" x2="69.8" y2="858.4" stroke-width="2.95"/>
<line x1="587.3" y1="461" x2="587.3" y2="858.4" stroke-width="2.95"/>
<line x1="69" y1="858.4" x2="588" y2="858.4" stroke-width="2.95"/>
<path d="M69.5,858.4 L92.0,863.4 L92.0,853.4 Z" fill="#000" stroke="none"/>
<path d="M587.5,858.4 L565.5,853.4 L565.5,863.4 Z" fill="#000" stroke="none"/>
<line x1="837.5" y1="57" x2="837.5" y2="120" stroke-width="2.95"/>
<line x1="926" y1="57" x2="926" y2="130" stroke-width="2.95"/>
<line x1="837" y1="60" x2="926.5" y2="60" stroke-width="2.95"/>
<path d="M838.0,60.0 L860.0,64.6 L860.0,55.4 Z" fill="#000" stroke="none"/>
<path d="M926.0,60.0 L904.0,55.4 L904.0,64.6 Z" fill="#000" stroke="none"/>
<path d="M838.5,118 L884,122 L889,125.5 L921,129.5 Q926.3,130.5 926.3,136" stroke-width="3" fill="none" stroke-linejoin="round"/>
<line x1="838.6" y1="117" x2="840.3" y2="355" stroke-width="3"/>
<path d="M840,132 L853,132 Q861.5,129.5 868,131.5 Q876.5,135 876.5,144.5 Q876,156.5 862,157.2 L840,157.2" stroke-width="3" fill="none"/>
<circle cx="860.6" cy="142.6" r="8.6" stroke-width="6.8"/>
<path d="M849.5,150 Q853,155.5 861,155.5 Q870,155 873,147" stroke="#fff" stroke-width="0.9" fill="none"/>
<path d="M840,137 L844.5,137 L844.5,155 L840,155" stroke-width="1.6" fill="none"/>
<line x1="840" y1="147.2" x2="845" y2="147.2" stroke-width="2.6"/>
<path d="M883.3,122.5 C883.5,138.3 883.8,154.0 883.8,170.0 C883.8,186.5 883.4,203.3 883.0,220.0 C882.6,236.9 882.0,254.0 881.5,271.0" stroke-width="2.8" fill="none" />
<path d="M902.0,128.6 C900.3,130.2 898.3,131.5 897.0,133.5 C895.6,135.6 894.9,137.6 894.3,141.0 C893.1,147.5 893.9,159.0 893.5,170.0 C893.0,184.4 892.2,203.3 891.5,220.0 C890.8,236.7 890.2,253.3 889.5,270.0" stroke-width="3" fill="none" />
<path d="M902.0,128.6 C907.3,129.4 914.6,129.5 918.0,131.0 C919.9,131.8 920.9,132.5 921.8,134.0 C922.9,135.9 923.0,138.5 923.3,142.0 C923.9,148.5 923.5,160.5 923.2,170.0 C922.9,179.8 922.3,189.3 921.5,200.0 C920.7,212.4 919.6,225.9 918.5,240.0 C917.3,255.7 915.9,273.3 914.5,290.0 C913.1,306.7 911.7,325.5 910.3,340.0 C909.2,351.3 908.1,360.0 906.9,370.0 C905.7,380.0 904.4,388.7 903.2,400.0 C901.6,414.5 899.8,433.3 898.4,450.0 C897.0,466.7 895.8,483.3 894.6,500.0 C893.5,516.7 892.3,533.3 891.5,550.0 C890.7,566.7 890.4,583.3 889.9,600.0" stroke-width="3.2" fill="none" />
<path d="M926.3,135.0 C926.2,146.7 926.2,158.8 925.9,170.0 C925.7,180.4 925.4,189.3 924.9,200.0 C924.2,212.4 922.9,225.9 921.8,240.0 C920.6,255.7 919.2,273.3 917.8,290.0 C916.4,306.7 915.0,325.5 913.6,340.0 C912.5,351.3 911.4,360.0 910.2,370.0 C909.0,380.0 907.9,388.7 906.6,400.0 C905.0,414.5 903.1,433.3 901.5,450.0 C899.9,466.7 898.3,483.3 897.0,500.0 C895.7,516.7 894.5,533.3 893.5,550.0 C892.5,566.7 891.6,582.6 890.9,600.0 C890.2,619.1 889.9,640.0 889.5,660.0 C889.1,680.0 888.7,700.8 888.3,720.0 C887.9,737.7 887.6,754.0 887.3,771.0" stroke-width="3.3" fill="none" />
<path d="M880.5,270.2 Q874,256.8 861.5,256.5 Q842,257 842,277 Q842,297.5 861.5,297.8 Q874,297.5 880.5,290.6 L891.6,290.6 L891.6,270.2 Z" stroke-width="2.8" fill="#fff"/>
<path d="M842.8,291.5 Q850,305 861.5,305 Q873,305 879.8,295" stroke-width="2.6" fill="none"/>
<path d="M884.5,291.0 C884.2,297.3 884.0,303.6 883.6,310.0 C883.2,316.6 882.6,323.3 882.0,330.0 C881.4,336.7 880.7,343.3 880.0,350.0 C879.2,356.7 878.3,363.3 877.5,370.0 C876.7,376.7 876.0,382.7 875.3,390.0 C874.5,399.0 873.8,410.4 873.0,420.0 C872.3,429.0 871.4,435.8 870.9,446.0 C870.1,460.7 869.9,481.5 869.6,500.0 C869.3,519.5 869.1,540.4 869.0,560.0 C868.9,578.7 868.9,594.7 868.8,615.0 C868.7,640.3 868.7,672.3 868.6,700.0 C868.6,726.6 868.5,752.0 868.5,778.0" stroke-width="3.4" fill="none" />
<path d="M839.5,354.2 L846,353 C848.0,352.2 849.9,351.6 852.0,350.5 C854.5,349.2 857.6,347.3 860.0,345.5 C862.2,343.8 864.2,342.0 866.0,340.0 C867.9,337.9 869.6,335.7 871.0,333.0 C872.5,330.1 873.6,326.4 874.5,323.0 C875.4,319.5 876.0,315.8 876.5,312.0 C877.1,308.1 877.3,303.6 877.8,300.0 C878.2,297.1 878.6,294.7 879.0,292.0" stroke-width="3.5" fill="none" />
<path d="M881.6,293.0 C881.3,297.0 881.1,300.8 880.8,305.0 C880.4,309.7 880.2,315.2 879.4,320.0 C878.6,324.5 877.6,329.0 876.0,333.0 C874.5,336.8 872.4,340.5 870.0,343.5 C867.8,346.3 865.2,348.6 862.5,350.5 C860.0,352.3 857.2,353.5 854.5,355.0" stroke-width="3.0" fill="none" />
<path d="M884.5,293.0 C884.1,297.0 883.8,300.7 883.4,305.0 C882.9,310.2 882.7,316.5 881.8,322.0 C880.9,327.2 879.9,332.5 878.0,337.0 C876.2,341.2 873.9,345.4 871.0,348.5 C868.3,351.4 864.7,353.5 861.5,355.5 C858.5,357.3 854.7,358.3 852.5,360.0 C850.9,361.2 849.8,362.3 849.0,364.0 C848.0,366.1 847.9,369.0 847.6,372.0 C847.2,375.8 847.4,379.4 847.4,385.0 C847.3,395.5 847.3,410.2 847.3,430.0 C847.2,468.5 847.1,542.8 847.1,600.0 C847.0,658.4 847.0,718.0 847.0,777.0" stroke-width="3.4" fill="none" />
<path d="M847,776 Q847,779 850,779 L860,778.3 Q865,777.5 865.4,767" stroke-width="3" fill="none"/>
<path d="M868.5,777 Q868.5,780.3 872,780.3 L882.5,779 Q887,777.8 887.3,771" stroke-width="3" fill="none"/>
<path d="M846,407.5 L843.5,408 Q841,409.5 841,412 L841,430 Q841,433 843.5,435 L846,435.5" stroke-width="2.2" fill="none"/>
<path d="M846,627 L842,628 Q838.8,629.5 838.8,633 L838.8,656 Q838.8,660 842,662 L845.5,663" stroke-width="2.4" fill="none"/>
<path d="M843.5,663 L843,723 Q843,725.5 845.5,725.5" stroke-width="1.8" fill="none"/>
<g font-family="Liberation Sans, sans-serif" font-weight="bold" fill="#000" stroke="#000" stroke-width="0.9" stroke-linejoin="round"><text x="231.6" y="71.8" font-size="37" textLength="197.5" lengthAdjust="spacingAndGlyphs">108-165 mm</text>
<text x="834.6" y="51.0" font-size="38.5" textLength="101.5" lengthAdjust="spacingAndGlyphs">65mm</text>
<text x="295.3" y="848.8" font-size="37.8" textLength="120.8" lengthAdjust="spacingAndGlyphs">370mm</text>
<text x="408.3" y="975.8" font-size="28.0" textLength="188.5" lengthAdjust="spacing" stroke-width="0.5">CCM7851WH</text>
<text x="683" y="520.5" font-size="37.9" textLength="128" lengthAdjust="spacingAndGlyphs" transform="rotate(-90 683 520.5)">475 mm</text></g>
</svg>

</body></html>
